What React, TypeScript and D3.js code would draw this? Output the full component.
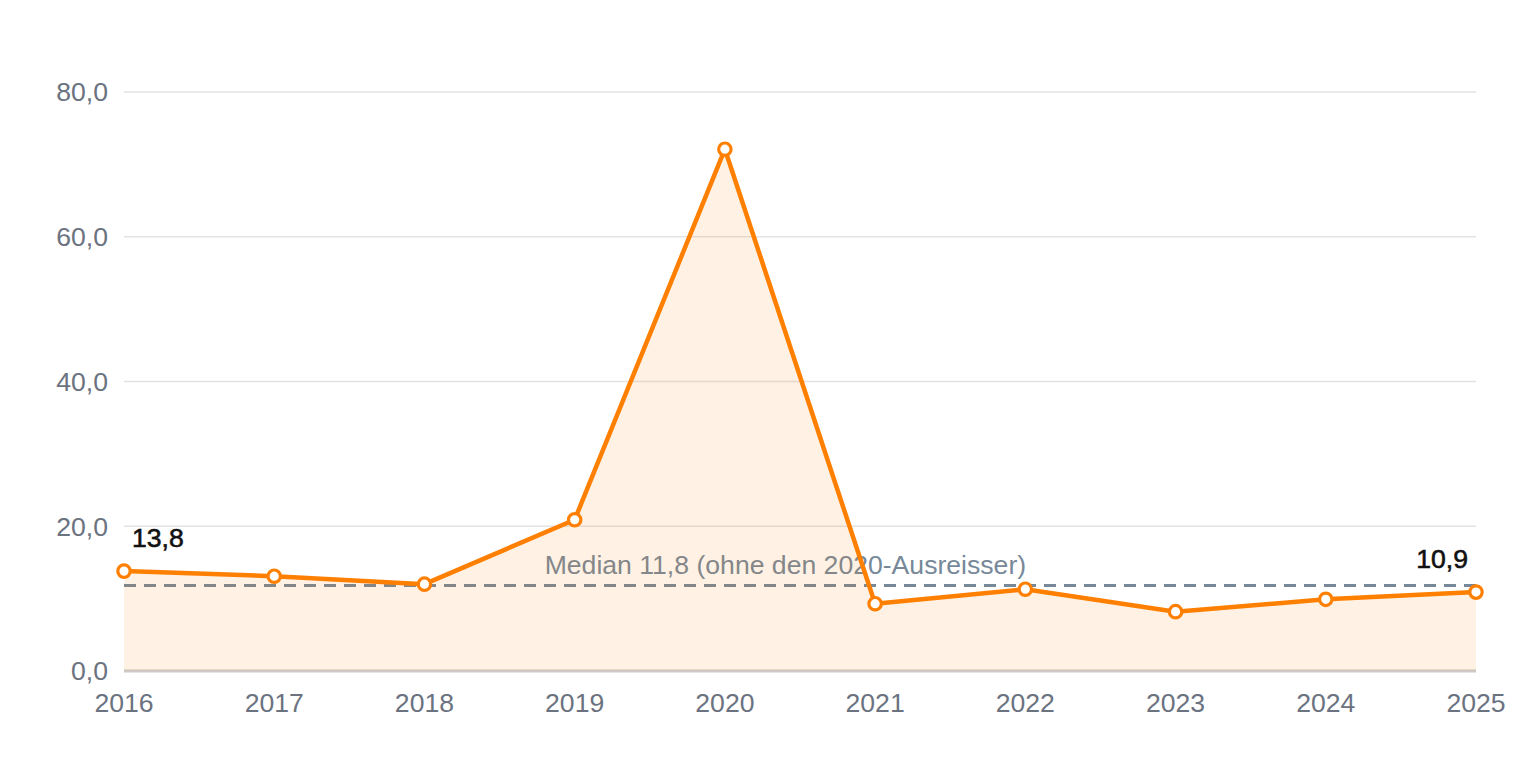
import React from 'react';
import * as d3 from 'd3';

const years = ['2016', '2017', '2018', '2019', '2020', '2021', '2022', '2023', '2024', '2025'];
const values = [13.8, 13.1, 12.0, 20.9, 72.1, 9.3, 11.3, 8.2, 9.9, 10.9];
const yTicks = [0, 20, 40, 60, 80];
const medianValue = 11.8;
const medianLabel = 'Median 11,8 (ohne den 2020-Ausreisser)';
const labelledIdx = [0, 9];

const width = 1520;
const height = 760;
const margin = { top: 92, right: 44, bottom: 89, left: 124 };

const orange = '#ff7f00';
const slate = '#778899';
const tickColor = '#6b7280';
const font = '"Liberation Sans", Arial, Helvetica, sans-serif';
const fontSize = 26.6;

const fmt = (v: number) => v.toFixed(1).replace('.', ',');

const App: React.FC = () => {
  const innerW = width - margin.left - margin.right;
  const innerH = height - margin.top - margin.bottom;

  const x = d3
    .scalePoint<string>()
    .domain(years)
    .range([0, innerW]);
  const y = d3.scaleLinear().domain([0, 80]).range([innerH, 0]);

  const pts = years.map((yr, i) => ({ yr, v: values[i] }));

  const area = d3
    .area<{ yr: string; v: number }>()
    .x(d => x(d.yr) as number)
    .y0(y(0))
    .y1(d => y(d.v));
  const line = d3
    .line<{ yr: string; v: number }>()
    .x(d => x(d.yr) as number)
    .y(d => y(d.v));

  const medY = y(medianValue);

  return (
    <div style={{ position: 'absolute', left: 0, top: 0 }}>
      <svg width={width} height={height} style={{ display: 'block', background: '#fff' }}>
        <g transform={`translate(${margin.left},${margin.top})`} fontFamily={font}>
          {/* grid */}
          {yTicks.map(t => (
            <g key={t}>
              {t > 0 && (
                <line x1={0} x2={innerW} y1={y(t)} y2={y(t)} stroke="#e3e3e3" strokeWidth={1.5} />
              )}
              <text
                x={-16}
                y={y(t)}
                dy="0.35em"
                textAnchor="end"
                fontSize={fontSize}
                fill={tickColor}
              >
                {fmt(t)}
              </text>
            </g>
          ))}

          {/* median */}
          <line
            x1={0}
            x2={innerW}
            y1={medY}
            y2={medY}
            stroke={slate}
            strokeWidth={3}
            strokeDasharray="12 8"
          />
          <text x={(x('2019') as number) - 30} y={medY - 12} fontSize={fontSize} fill={slate}>
            {medianLabel}
          </text>

          {/* baseline */}
          <line x1={0} x2={innerW} y1={y(0)} y2={y(0)} stroke="#cccccc" strokeWidth={3} />

          {/* area + line */}
          <path d={area(pts) || ''} fill={orange} fillOpacity={0.1} />
          <path
            d={line(pts) || ''}
            fill="none"
            stroke={orange}
            strokeWidth={4.5}
            strokeLinejoin="round"
          />
          {pts.map(p => (
            <circle
              key={p.yr}
              cx={x(p.yr)}
              cy={y(p.v)}
              r={6.2}
              fill="#fff"
              stroke={orange}
              strokeWidth={3.2}
            />
          ))}

          {/* value labels */}
          {labelledIdx.map(i => {
            const first = i === 0;
            return (
              <text
                key={i}
                x={(x(years[i]) as number) + (first ? 8 : -8)}
                y={y(values[i]) - 24}
                textAnchor={first ? 'start' : 'end'}
                fontSize={fontSize}
                fill="#111"
                stroke="#111"
                strokeWidth={0.6}
              >
                {fmt(values[i])}
              </text>
            );
          })}

          {/* x axis labels */}
          {years.map(yr => (
            <text
              key={yr}
              x={x(yr)}
              y={innerH + 41}
              textAnchor="middle"
              fontSize={fontSize}
              fill={tickColor}
            >
              {yr}
            </text>
          ))}
        </g>
      </svg>
    </div>
  );
};

export default App;
